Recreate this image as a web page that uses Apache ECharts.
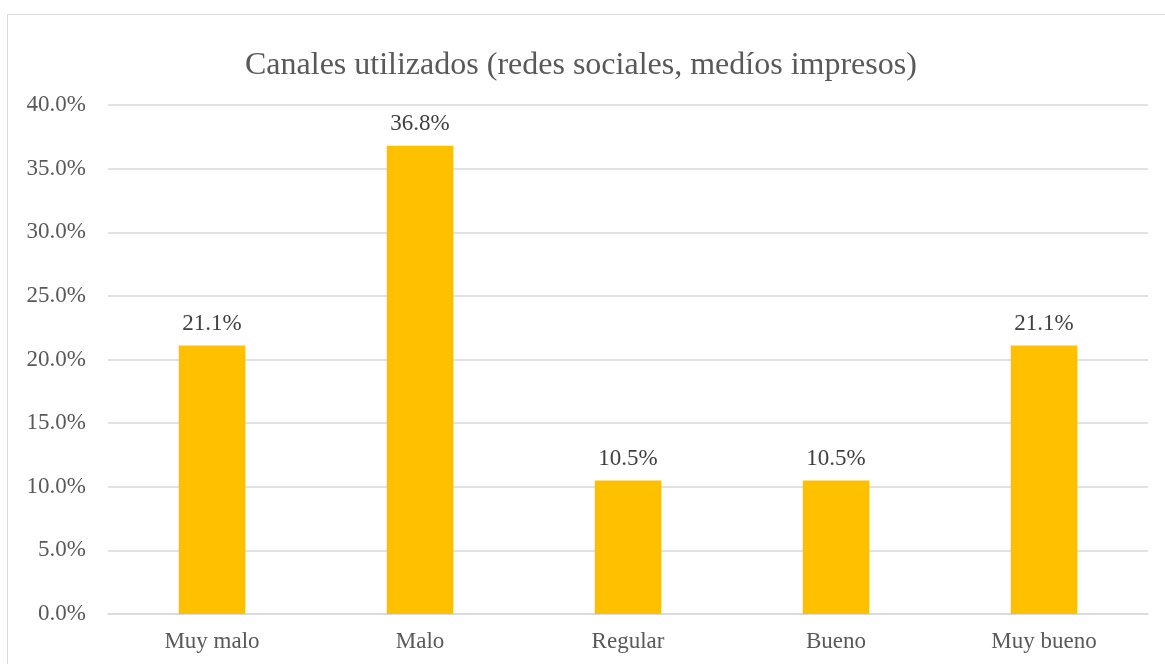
<!DOCTYPE html>
<html><head><meta charset="utf-8">
<script src="https://cdn.jsdelivr.net/npm/echarts@6/dist/echarts.min.js"></script>
<style>
html,body{margin:0;padding:0;background:#fff;overflow:hidden;}
#frame{position:absolute;left:7px;top:14px;width:1200px;height:700px;border:1.5px solid #d9d9d9;box-sizing:border-box;}
#c{position:absolute;left:0;top:0;width:1165px;height:664px;}
</style></head>
<body>
<div id="frame"></div>
<div id="c"></div>
<script>
var titleText = 'Canales utilizados (redes sociales, medíos impresos)';
var categories = ['Muy malo', 'Malo', 'Regular', 'Bueno', 'Muy bueno'];
var values = [21.1, 36.8, 10.5, 10.5, 21.1];
var yTicks = [0, 5, 10, 15, 20, 25, 30, 35, 40];

var chart = echarts.init(document.getElementById('c'), null, {renderer: 'canvas'});
chart.setOption({
  backgroundColor: 'transparent',
  animation: false,
  title: {
    text: titleText, left: 240, top: 45,
    textStyle: {fontFamily: 'Liberation Serif', fontSize: 32, fontWeight: 'normal', color: '#595959'}
  },
  grid: {left: 108, right: 17, top: 105, bottom: 50, containLabel: false},
  xAxis: {
    type: 'category', data: categories,
    axisLine: {lineStyle: {color: '#d9d9d9', width: 1.5}},
    axisTick: {show: false},
    axisLabel: {fontFamily: 'Liberation Serif', fontSize: 23, color: '#595959', margin: 16}
  },
  yAxis: {
    type: 'value', min: yTicks[0], max: yTicks[yTicks.length - 1], interval: 5,
    axisLine: {show: false}, axisTick: {show: false},
    splitLine: {lineStyle: {color: '#d9d9d9', width: 1.5}},
    axisLabel: {fontFamily: 'Liberation Serif', fontSize: 23, color: '#595959', margin: 22,
      formatter: function (v) { return v.toFixed(1) + '%'; }}
  },
  series: [{
    type: 'bar', data: values, barWidth: '32%',
    itemStyle: {color: '#ffc000'},
    label: {show: true, position: 'top', distance: 10,
      fontFamily: 'Liberation Serif', fontSize: 23, color: '#404040',
      formatter: function (p) { return p.value.toFixed(1) + '%'; }}
  }]
});
</script>
</body></html>
